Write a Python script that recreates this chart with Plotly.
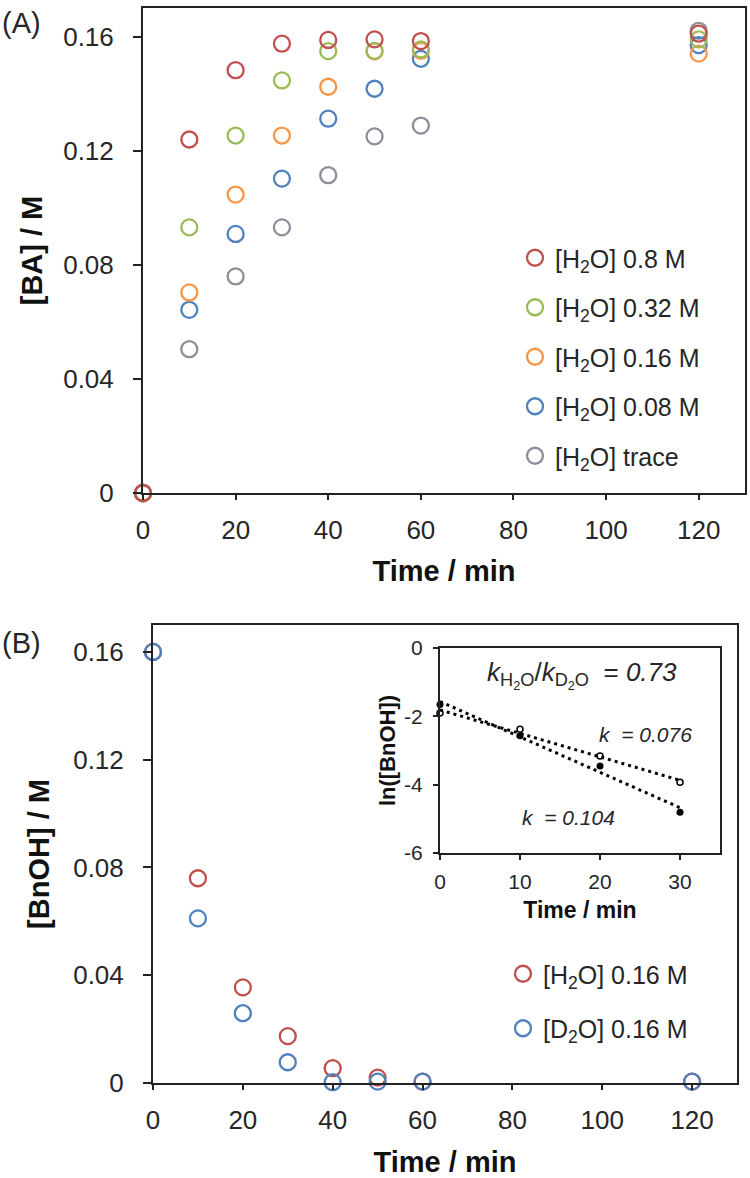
import numpy as np
import plotly.graph_objects as go

W, H = 750, 1178

# ---------------- Data ----------------
time_a = [0, 10, 20, 30, 40, 50, 60, 120]
ba_08 = [0, 0.1239, 0.1482, 0.1575, 0.1588, 0.1590, 0.1584, 0.1610]
ba_032 = [0, 0.0931, 0.1253, 0.1446, 0.1549, 0.1550, 0.1555, 0.1590]
ba_016 = [0, 0.0703, 0.1046, 0.1253, 0.1424, 0.1548, 0.1550, 0.1540]
ba_008 = [0, 0.0642, 0.0908, 0.1102, 0.1312, 0.1417, 0.1522, 0.1570]
ba_trace = [0, 0.0504, 0.0759, 0.0931, 0.1114, 0.1250, 0.1288, 0.1620]

names_a = ["[H<sub>2</sub>O] 0.8 M", "[H<sub>2</sub>O] 0.32 M", "[H<sub>2</sub>O] 0.16 M",
           "[H<sub>2</sub>O] 0.08 M", "[H<sub>2</sub>O] trace"]
colors_a = ["#C0504D", "#9BBB59", "#F79646", "#4F81BD", "#8C8E9A"]

time_b = [0, 10, 20, 30, 40, 50, 60, 120]
bnoh_h2o = [0.160, 0.0760, 0.0355, 0.0174, 0.0055, 0.0020, 0.0005, 0.0005]
bnoh_d2o = [0.160, 0.0611, 0.0259, 0.0077, 0.0003, 0.0005, 0.0005, 0.0005]
names_b = ["[H<sub>2</sub>O] 0.16 M", "[D<sub>2</sub>O] 0.16 M"]
colors_b = ["#C0504D", "#4F81BD"]

time_in = [0, 10, 20, 30]
ln_h2o = [-1.90, -2.38, -3.16, -3.93]
ln_d2o = [-1.65, -2.57, -3.45, -4.81]

main_xticks = [0, 20, 40, 60, 80, 100, 120]
main_yticks = [0, 0.04, 0.08, 0.12, 0.16]
main_yticktext = ["0", "0.04", "0.08", "0.12", "0.16"]
in_xticks = [0, 10, 20, 30]
in_yticks = [0, -2, -4, -6]
in_yticktext = ["0", "-2", "-4", "-6"]

FONT = "Liberation Sans, Arial, sans-serif"
TXT = "#262626"

def px_x(p):
    return p / W

def px_y(p):
    return 1 - p / H

fig = go.Figure()

# Panel A (draw gray first so red ends on top)
series_a = [ba_08, ba_032, ba_016, ba_008, ba_trace]
for i in reversed(range(5)):
    fig.add_trace(go.Scatter(
        x=time_a, y=series_a[i], mode="markers", name=names_a[i],
        marker=dict(symbol="circle-open", size=16, color=colors_a[i],
                    line=dict(width=2.3, color=colors_a[i])),
        cliponaxis=False, xaxis="x", yaxis="y", legend="legend",
        legendgroup="a%d" % i, legendrank=i + 1,
    ))

# Panel B
series_b = [bnoh_h2o, bnoh_d2o]
for i in range(2):
    fig.add_trace(go.Scatter(
        x=time_b, y=series_b[i], mode="markers", name=names_b[i],
        marker=dict(symbol="circle-open", size=16, color=colors_b[i],
                    line=dict(width=2.3, color=colors_b[i])),
        cliponaxis=False, xaxis="x2", yaxis="y2", legend="legend2",
        legendgroup="b%d" % i, legendrank=i + 1,
    ))

# Inset: linear fits
xfit = np.array([min(time_in), max(time_in)], dtype=float)
for yy in (ln_h2o, ln_d2o):
    s, b = np.polyfit(time_in, yy, 1)
    fig.add_trace(go.Scatter(
        x=xfit, y=s * xfit + b, mode="lines",
        line=dict(color="black", width=3, dash="3px,4px"),
        showlegend=False, xaxis="x3", yaxis="y3", hoverinfo="skip"))
fig.add_trace(go.Scatter(
    x=time_in, y=ln_h2o, mode="markers",
    marker=dict(symbol="circle-open", size=6, color="black", line=dict(width=1.5)),
    showlegend=False, xaxis="x3", yaxis="y3", cliponaxis=False))
fig.add_trace(go.Scatter(
    x=time_in, y=ln_d2o, mode="markers",
    marker=dict(symbol="circle", size=7, color="black"),
    showlegend=False, xaxis="x3", yaxis="y3", cliponaxis=False))

common_axis = dict(showline=True, linecolor="#222", linewidth=2, mirror=True,
                   showgrid=False, zeroline=False, ticks="outside",
                   tickcolor="#222", tickwidth=2, automargin=False)

fig.update_layout(
    template="none",
    width=W, height=H, margin=dict(l=0, r=0, t=0, b=0, pad=0, autoexpand=False),
    paper_bgcolor="white", plot_bgcolor="white",
    font=dict(family=FONT, color=TXT),
    xaxis=dict(domain=[px_x(143), px_x(745)], range=[0, 130], anchor="y",
               tickvals=main_xticks, ticklen=5, ticklabelstandoff=8,
               tickfont=dict(size=26, color=TXT),
               title=dict(text="<b>Time / min</b>", font=dict(size=29, color="#111"), standoff=16),
               **common_axis),
    yaxis=dict(domain=[px_y(493), px_y(8)], range=[0, 0.17], anchor="x",
               tickvals=main_yticks, ticktext=main_yticktext, ticklen=8, ticklabelstandoff=14,
               tickfont=dict(size=26, color=TXT),
               title=dict(text="<b>[BA] / M</b>", font=dict(size=29, color="#111"), standoff=12),
               **common_axis),
    xaxis2=dict(domain=[px_x(153), px_x(737)], range=[0, 130], anchor="y2",
                tickvals=main_xticks, ticklen=5, ticklabelstandoff=8,
                tickfont=dict(size=26, color=TXT),
                title=dict(text="<b>Time / min</b>", font=dict(size=29, color="#111"), standoff=20),
                **common_axis),
    yaxis2=dict(domain=[px_y(1083), px_y(625)], range=[0, 0.17], anchor="x2",
                tickvals=main_yticks, ticktext=main_yticktext, ticklen=8, ticklabelstandoff=14,
                tickfont=dict(size=26, color=TXT),
                title=dict(text="<b>[BnOH] / M</b>", font=dict(size=29, color="#111"), standoff=15),
                **common_axis),
    xaxis3=dict(domain=[px_x(440), px_x(720)], range=[0, 35], anchor="y3",
                tickvals=in_xticks, ticklen=5, ticklabelstandoff=4,
                tickfont=dict(size=21, color=TXT),
                title=dict(text="<b>Time / min</b>", font=dict(size=23, color="#111"), standoff=10),
                **common_axis),
    yaxis3=dict(domain=[px_y(853), px_y(648)], range=[-6, 0], anchor="x3",
                tickvals=in_yticks, ticktext=in_yticktext, ticklen=5, ticklabelstandoff=6,
                tickfont=dict(size=21, color=TXT),
                title=dict(text="<b>ln([BnOH])</b>", font=dict(size=22, color="#111"), standoff=2),
                **common_axis),
    legend=dict(x=px_x(515), y=px_y(235), xanchor="left", yanchor="top",
                bgcolor="rgba(0,0,0,0)", borderwidth=0, traceorder="grouped",
                tracegroupgap=14, font=dict(size=25, color=TXT)),
    legend2=dict(x=px_x(503), y=px_y(951), xanchor="left", yanchor="top",
                 bgcolor="rgba(0,0,0,0)", borderwidth=0, traceorder="grouped",
                 tracegroupgap=19, font=dict(size=25, color=TXT)),
    showlegend=True,
)

ann = [
    dict(text="(A)", x=px_x(0), y=px_y(23), xanchor="left", yanchor="middle", size=29),
    dict(text="(B)", x=px_x(0), y=px_y(643), xanchor="left", yanchor="middle", size=29),
    dict(text="<i>k</i><sub>H<sub>2</sub>O</sub>/<i>k</i><sub>D<sub>2</sub>O</sub>  = <i>0.73</i>",
         x=px_x(485), y=px_y(675), xanchor="left", yanchor="middle", size=26),
    dict(text="<i>k  = 0.076</i>", x=px_x(597), y=px_y(735), xanchor="left", yanchor="middle", size=21),
    dict(text="<i>k  = 0.104</i>", x=px_x(520), y=px_y(817), xanchor="left", yanchor="middle", size=21),
]
for a in ann:
    fig.add_annotation(text=a["text"], x=a["x"], y=a["y"], xref="paper", yref="paper",
                       xanchor=a["xanchor"], yanchor=a["yanchor"], showarrow=False,
                       font=dict(size=a["size"], color=TXT, family=FONT))

fig.write_html("out.html")
